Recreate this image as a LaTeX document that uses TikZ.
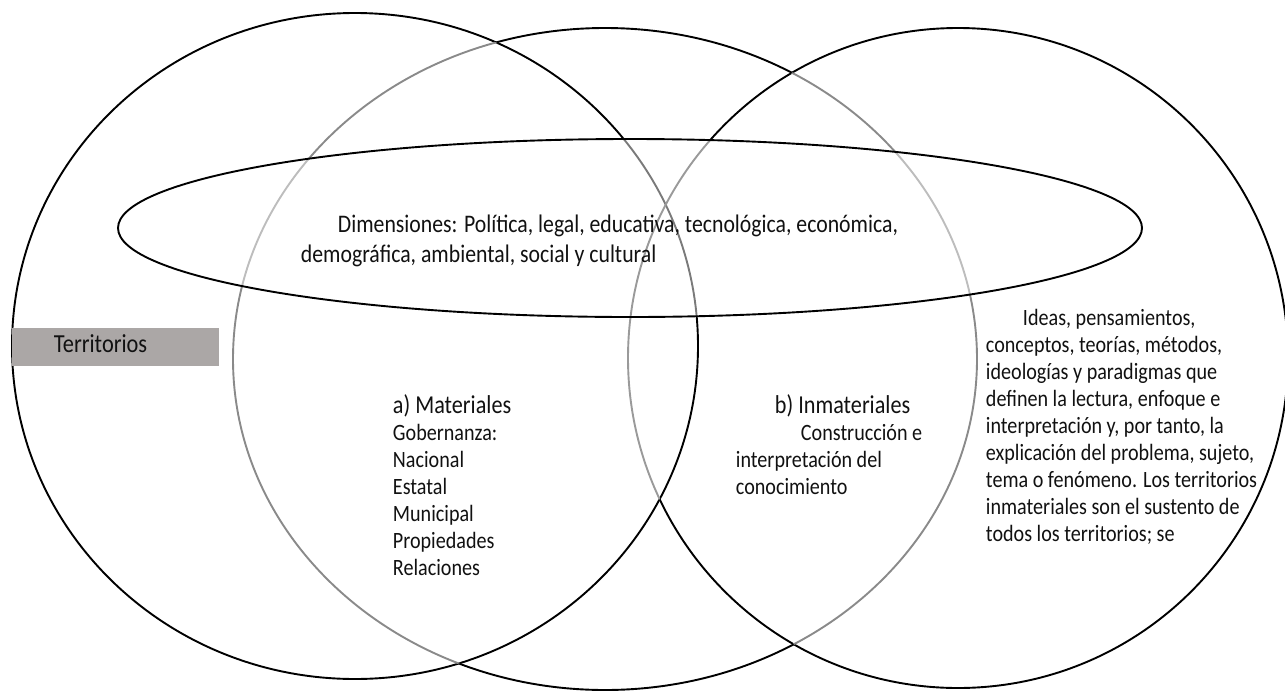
\documentclass[tikz,border=0pt]{standalone}
\usepackage{fontspec}
\setmainfont{Carlito}[FakeStretch=0.86]
\definecolor{boxgray}{HTML}{ABA7A6}
\definecolor{txtc}{HTML}{111111}
\definecolor{gA}{HTML}{7A7A7A}
\definecolor{gB}{HTML}{8A8A8A}
\definecolor{gBl}{HTML}{BDBDBD}
\definecolor{gC}{HTML}{9A9A9A}
\newcommand\pathA{(355,346) ellipse [x radius=343, y radius=333]}
\newcommand\pathB{(605,359) ellipse [x radius=372, y radius=331]}
\newcommand\pathC{(958,358) ellipse [x radius=330, y radius=330]}
\newcommand\pathE{(630,228) ellipse [x radius=512, y radius=89]}
\newcommand\bigbox{(-20,-20) rectangle (1310,710)}
\begin{document}
\begin{tikzpicture}[x=1pt,y=-1pt,line width=1.9pt,
  txt/.style={inner sep=0pt, anchor=base west, align=left, text=txtc,
    font=\fontsize{23.4}{27}\selectfont},
  head/.style={inner sep=0pt, anchor=base west, text=txtc,
    font=\fontsize{25.8}{30}\selectfont}]
\useasboundingbox (0,0) rectangle (1285,691);
% circle A (left): gray only inside the ellipse
\begin{scope}[even odd rule]
  \clip \bigbox \pathE;
  \draw[black] \pathA;
\end{scope}
\begin{scope}
  \clip \pathE;
  \draw[gA] \pathA;
\end{scope}
% circle C (right): gray inside A or inside the ellipse
\begin{scope}[even odd rule]
  \clip \bigbox \pathE;
  \clip \bigbox \pathA;
  \draw[black] \pathC;
\end{scope}
\begin{scope}[even odd rule]
  \clip \bigbox \pathE;
  \clip \pathA;
  \draw[gC] \pathC;
\end{scope}
\begin{scope}
  \clip \pathE;
  \draw[gC] \pathC;
\end{scope}
% circle B (middle): gray inside A, C or the ellipse
\begin{scope}[even odd rule]
  \clip \bigbox \pathA;
  \clip \bigbox \pathC;
  \clip \bigbox \pathE;
  \draw[black] \pathB;
\end{scope}
\begin{scope}[even odd rule]
  \clip \bigbox \pathE;
  \begin{scope}
    \clip \pathA;
    \draw[gB] \pathB;
  \end{scope}
  \begin{scope}
    \clip \pathC;
    \draw[gB] \pathB;
  \end{scope}
\end{scope}
\begin{scope}
  \clip \pathE;
  \draw[gBl] \pathB;
\end{scope}
% ellipse
\draw[black] \pathE;
% Territorios box
\fill[boxgray] (12,328) rectangle (219,366);
\node[head, font=\fontsize{26}{30}\selectfont] (terr) at (53,352) {Territorios};
% texts (multi-line nodes are placed at the baseline of their last line)
\node[txt, font=\fontsize{25.3}{30}\selectfont] (dim) at (300,262)
  {\hspace*{37pt}Dimensiones: Política, legal, educativa, tecnológica, económica,\\
   demográfica, ambiental, social y cultural};
\node[head] (mat) at (392,413) {a) Materiales};
\node[txt] (matl) at (392,575)
  {Gobernanza:\\Nacional\\Estatal\\Municipal\\Propiedades\\Relaciones};
\node[head] (inm) at (774,413) {b) Inmateriales};
\node[txt] (inml) at (735,494)
  {\hspace*{65pt}Construcción e\\interpretación del\\conocimiento};
\node[txt] (ideas) at (985,541)
  {\hspace*{37pt}Ideas, pensamientos,\\
   conceptos, teorías, métodos,\\
   ideologías y paradigmas que\\
   definen la lectura, enfoque e\\
   interpretación y, por tanto, la\\
   explicación del problema, sujeto,\\
   tema o fenómeno. Los territorios\\
   inmateriales son el sustento de\\
   todos los territorios; se};
\end{tikzpicture}
\end{document}
